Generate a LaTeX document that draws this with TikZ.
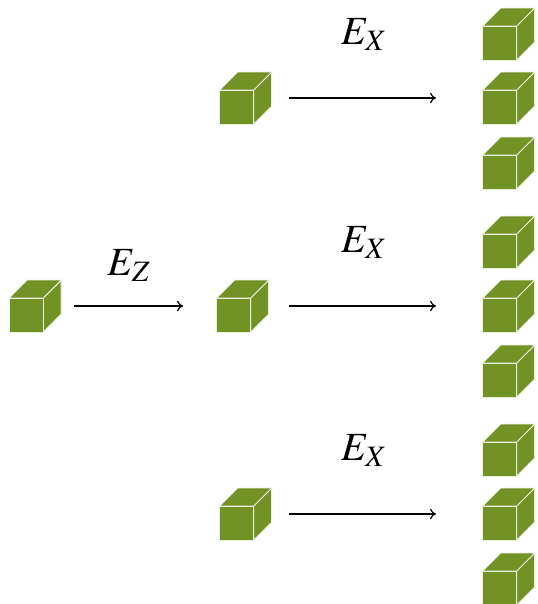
\documentclass[tikz,border=0pt]{standalone}
\usepackage{mathptmx}
\usetikzlibrary{arrows.meta}
\definecolor{cubegreen}{RGB}{115,146,37}
\tikzset{
    cube/.pic={
        \begin{scope}[shift={(-26,26)}, fill=cubegreen, draw=white!85!cubegreen, line width=0.7pt, line join=round]
            \filldraw (34,-34) -- (52,-52) -- (52,-18) -- (34,0) -- cycle;
            \filldraw (0,-34) -- (18,-52) -- (52,-52) -- (34,-34) -- cycle;
            \filldraw (0,0) rectangle (34,-34);
        \end{scope}
        \node[minimum size=39pt, inner sep=0pt, outer sep=0pt] (-box) {};
    },
    flow/.style={-{Computer Modern Rightarrow[length=4.5pt,width=8pt]}, line width=0.9pt},
    energy/.style={font=\fontsize{30}{32}\selectfont}
}
\begin{document}
\begin{tikzpicture}[x=0.75pt,y=-0.75pt]
    \useasboundingbox (0,0) rectangle (537,604);
    % first split
    \pic (start) at (35.2,306) {cube};
    \pic (midA) at (245.7,98) {cube};
    \pic (midB) at (242.7,306) {cube};
    \pic (midC) at (245.7,514) {cube};
    % second split
    \foreach \row/\y in {A/98,B/306,C/514} {
        \pic (end\row1) at (508.7,\y-64) {cube};
        \pic (end\row2) at (508.7,\y) {cube};
        \pic (end\row3) at (508.7,\y+65) {cube};
    }
    \draw[flow, shorten <=9.4pt, shorten >=25.25pt] (start-box) -- (midB-box);
    \draw[flow, shorten <=12.75pt, shorten >=35pt] (midA-box) -- (endA2-box);
    \draw[flow, shorten <=15pt, shorten >=35pt] (midB-box) -- (endB2-box);
    \draw[flow, shorten <=12.75pt, shorten >=35pt] (midC-box) -- (endC2-box);
    \node[energy] (labelZ) at (129,266) {$E_Z$};
    \node[energy] (labelA) at (364,35) {$E_X$};
    \node[energy] (labelB) at (364,243) {$E_X$};
    \node[energy] (labelC) at (364,451) {$E_X$};
\end{tikzpicture}
\end{document}
